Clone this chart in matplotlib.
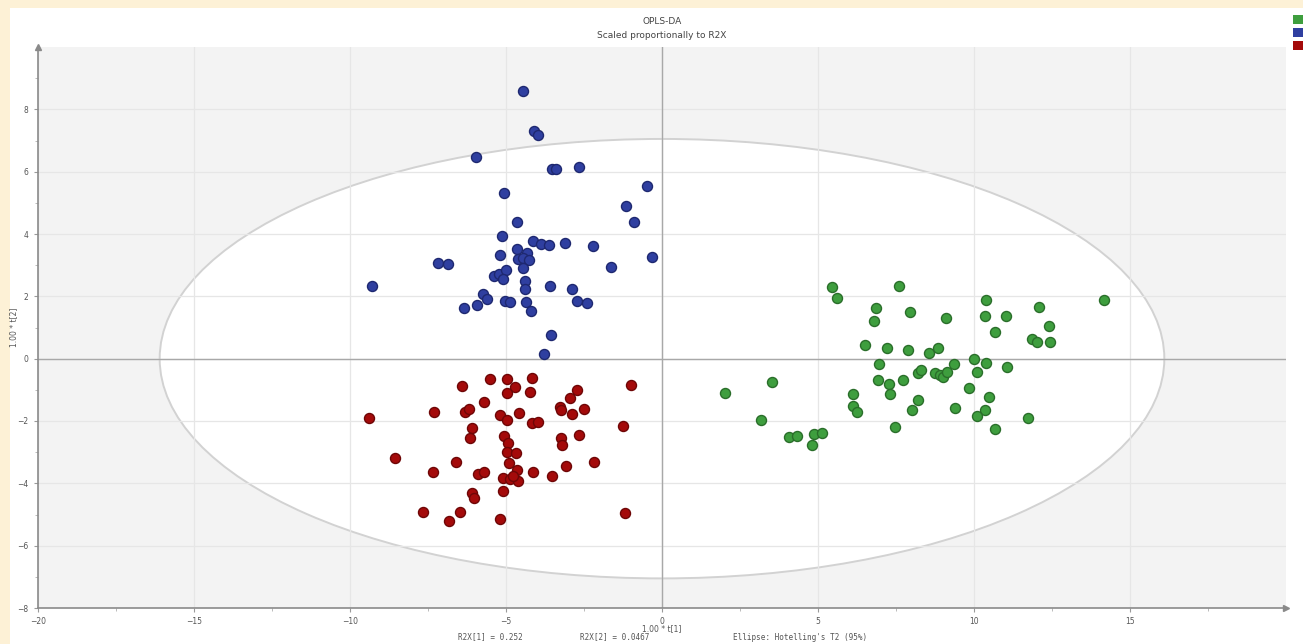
import matplotlib
matplotlib.use("Agg")
import matplotlib.pyplot as plt
from matplotlib.patches import Ellipse, Rectangle

# ---------------- data (score values) ----------------
blue_x = [-4.46, -4.10, -3.97, -5.96, -3.53, -3.40, -2.66, -0.48, -5.06, -1.15,
          -4.65, -0.90, -5.13, -4.13, -3.88, -3.62, -3.11, -2.21, -4.65, -4.33,
          -5.19, -4.62, -4.46, -4.26, -7.18, -6.86, -0.32, -4.46, -1.63, -9.29,
          -5.38, -5.22, -5.00, -5.10, -4.39, -4.39, -3.59, -2.88, -5.74, -5.61,
          -5.93, -6.35, -5.03, -4.87, -4.36, -4.20, -2.72, -2.40, -3.56, -3.78]
blue_y = [8.60, 7.29, 7.19, 6.48, 6.10, 6.07, 6.16, 5.55, 5.33, 4.91,
          4.37, 4.37, 3.95, 3.76, 3.69, 3.66, 3.72, 3.63, 3.53, 3.40,
          3.34, 3.21, 3.24, 3.18, 3.08, 3.05, 3.27, 2.92, 2.95, 2.34,
          2.66, 2.73, 2.86, 2.57, 2.50, 2.22, 2.34, 2.22, 2.09, 1.93,
          1.73, 1.64, 1.86, 1.83, 1.83, 1.54, 1.86, 1.80, 0.77, 0.16]

red_x = [-9.39, -7.31, -6.41, -6.31, -6.19, -5.71, -5.51, -4.97, -4.71, -4.97,
         -4.17, -4.23, -5.19, -4.97, -4.58, -4.17, -3.97, -6.09, -6.15, -5.06,
         -4.94, -3.27, -3.24, -2.72, -2.95, -2.88, -2.50, -3.24, -3.21, -2.66,
         -0.99, -1.25, -8.56, -6.60, -7.34, -5.90, -5.71, -4.97, -4.68, -4.90,
         -4.65, -5.10, -4.87, -4.62, -4.78, -4.13, -3.53, -3.08, -2.18, -5.10,
         -6.09, -6.03, -7.66, -6.47, -6.83, -5.19, -1.19]
red_y = [-1.89, -1.70, -0.87, -1.70, -1.61, -1.38, -0.64, -0.64, -0.90, -1.09,
         -0.61, -1.06, -1.80, -1.96, -1.73, -2.05, -2.02, -2.22, -2.54, -2.47,
         -2.70, -1.54, -1.64, -1.00, -1.25, -1.77, -1.61, -2.54, -2.76, -2.44,
         -0.83, -2.15, -3.18, -3.31, -3.63, -3.69, -3.63, -2.99, -3.02, -3.34,
         -3.56, -3.82, -3.85, -3.92, -3.76, -3.63, -3.76, -3.43, -3.31, -4.24,
         -4.30, -4.46, -4.91, -4.91, -5.20, -5.14, -4.94]

green_x = [5.45, 5.61, 7.60, 6.86, 6.79, 7.95, 6.51, 7.21, 7.88, 6.96,
           8.21, 6.92, 7.28, 7.72, 7.31, 6.12, 6.12, 6.25, 8.01, 8.21,
           7.47, 3.53, 2.02, 3.17, 4.07, 4.33, 4.87, 5.13, 4.81, 10.38,
           14.17, 12.08, 9.10, 10.35, 11.03, 12.40, 10.67, 11.86, 12.02, 12.44,
           8.56, 8.85, 10.00, 10.38, 11.06, 9.36, 8.30, 8.75, 8.91, 9.01,
           9.13, 10.10, 9.84, 10.48, 9.39, 10.35, 10.10, 11.73, 10.67]
green_y = [2.31, 1.96, 2.34, 1.61, 1.22, 1.51, 0.45, 0.35, 0.29, -0.16,
           -0.45, -0.67, -0.80, -0.67, -1.12, -1.12, -1.51, -1.70, -1.64, -1.32,
           -2.18, -0.74, -1.09, -1.96, -2.50, -2.47, -2.41, -2.38, -2.76, 1.89,
           1.89, 1.67, 1.32, 1.38, 1.38, 1.06, 0.87, 0.64, 0.55, 0.55,
           0.19, 0.35, 0.00, -0.13, -0.26, -0.16, -0.35, -0.45, -0.51, -0.58,
           -0.42, -0.42, -0.93, -1.22, -1.57, -1.64, -1.83, -1.89, -2.25]

x_ticks = [-20, -15, -10, -5, 0, 5, 10, 15]
y_ticks = [-8, -6, -4, -2, 0, 2, 4, 6, 8]
ellipse_axes = (16.1, 7.05)
title = "OPLS-DA"
subtitle = "Scaled proportionally to R2X"
x_label = "1.00 * t[1]"
y_label = "1.00 * t[2]"
r2x_1 = "R2X[1] = 0.252"
r2x_2 = "R2X[2] = 0.0467"
ellipse_note = "Ellipse: Hotelling's T2 (95%)"

# ---------------- figure ----------------
W, H = 1303, 644
fig = plt.figure(figsize=(W / 100, H / 100), dpi=100)
fig.patch.set_facecolor("#FDF1D6")
fig.add_artist(Rectangle((10 / W, 0), 1 - 10 / W, 1 - 8 / H,
                         transform=fig.transFigure, facecolor="white",
                         edgecolor="none", zorder=0))

ax = fig.add_axes([38 / W, 36 / H, 1248 / W, 561 / H])
ax.set_facecolor("#F3F3F3")
ax.set_xlim(-20, 20)
ax.set_ylim(-8, 10)

ax.add_patch(Ellipse((0, 0), 2 * ellipse_axes[0], 2 * ellipse_axes[1],
                     facecolor="white", edgecolor="#D2D2D2", lw=1.4, zorder=0.4))

ax.set_xticks(x_ticks)
ax.set_yticks(y_ticks)
ax.set_xticks([-17.5, -12.5, -7.5, -2.5, 2.5, 7.5, 12.5, 17.5], minor=True)
ax.set_yticks([-7, -5, -3, -1, 1, 3, 5, 7, 9], minor=True)
ax.set_axisbelow(True)
ax.grid(True, which="major", color="#E6E6E6", lw=0.9)
ax.axhline(0, color="#A8A8A8", lw=1.0, zorder=1)
ax.axvline(0, color="#A8A8A8", lw=1.0, zorder=1)

for side in ("top", "right"):
    ax.spines[side].set_visible(False)
for side in ("left", "bottom"):
    ax.spines[side].set_color("#8A8A8A")
    ax.spines[side].set_linewidth(1.2)
ax.plot([-20], [10], marker="^", color="#8A8A8A", ms=5, clip_on=False, zorder=5)
ax.plot([20], [-8], marker=">", color="#8A8A8A", ms=5, clip_on=False, zorder=5)

ax.tick_params(axis="both", which="major", labelsize=5.5, colors="#9A9A9A",
               labelcolor="#555555", length=3, width=0.8)
ax.tick_params(axis="both", which="minor", colors="#B0B0B0", length=2, width=0.6)
ax.tick_params(axis="y", pad=4)

mk = dict(s=52, linewidths=1.0, zorder=3)
ax.scatter(green_x, green_y, c="#3E9E3E", edgecolors="#2A6E2A", **mk)
ax.scatter(blue_x, blue_y, c="#2F3FA0", edgecolors="#1E2870", **mk)
ax.scatter(red_x, red_y, c="#A40A0A", edgecolors="#6E0606", **mk)

ax.set_xlabel(x_label, fontsize=5.5, color="#555555", labelpad=1)
ax.xaxis.set_label_coords(0.5, -0.028)
ax.set_ylabel(y_label, fontsize=5.5, color="#555555", labelpad=2)
ax.yaxis.set_label_coords(-0.016, 0.5)

fig.text(662 / W, 1 - 21 / H, title, ha="center", va="center", fontsize=6.5, color="#444444")
fig.text(662 / W, 1 - 36 / H, subtitle, ha="center", va="center", fontsize=6.5, color="#444444")

fig.text(490 / W, 1 - 637 / H, r2x_1, ha="center", va="center", fontsize=5.5,
         color="#555555", family="DejaVu Sans Mono")
fig.text(615 / W, 1 - 637 / H, r2x_2, ha="center", va="center", fontsize=5.5,
         color="#555555", family="DejaVu Sans Mono")
fig.text(800 / W, 1 - 637 / H, ellipse_note, ha="center", va="center", fontsize=5.5,
         color="#555555", family="DejaVu Sans Mono")

# legend swatches (labels fall outside the visible canvas in the reference)
for y0, col in ((15, "#3E9E3E"), (28, "#2F3FA0"), (41, "#A40A0A")):
    fig.add_artist(Rectangle((1293 / W, 1 - (y0 + 9) / H), 10 / W, 9 / H,
                             transform=fig.transFigure, facecolor=col,
                             edgecolor="none", zorder=3))

fig.savefig("out.png", dpi=100)
